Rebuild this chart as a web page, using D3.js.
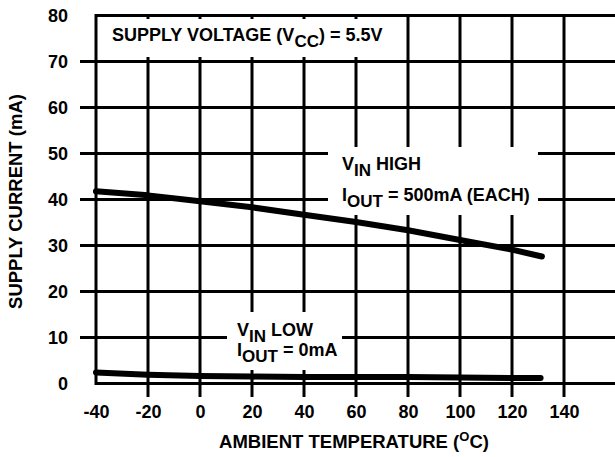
<!DOCTYPE html>
<html>
<head>
<meta charset="utf-8">
<script src="https://cdn.jsdelivr.net/npm/d3@7"></script>
<style>
  body { margin: 0; background: white; }
  svg text { font-family: "Liberation Sans", Arial, Helvetica, sans-serif; font-weight: bold; fill: black; }
</style>
</head>
<body>
<script>
// width and height for svg containing graph
var w = 615;
var h = 457;
var fontSize = 18;
var titleSize = 18.5;
var subSize = 17;
var supSize = 13;

// temperatures (deg C) and supply current (mA)
var highTemp = [-40, -20, 0, 20, 40, 60, 80, 100, 120, 131.5];
var highCurrent = [41.8, 40.9, 39.6, 38.3, 36.7, 35.1, 33.3, 31.2, 29.1, 27.6];

var lowTemp = [-40, -20, 0, 20, 40, 60, 80, 100, 120, 131];
var lowCurrent = [2.4, 1.9, 1.65, 1.5, 1.4, 1.4, 1.4, 1.3, 1.2, 1.2];

// tick labels
var xTicks = [-40, -20, 0, 20, 40, 60, 80, 100, 120, 140];
var yTicks = [0, 10, 20, 30, 40, 50, 60, 70, 80];

// merges arrays to array of objects
function parseData(var1, var2) {
  var arr = [];
  for (var i = 0; i < var1.length; i++) {
    arr.push({ temp: var1[i], value: var2[i] });
  }
  return arr;
};

var svg = d3.select("body")
            .append("svg")
            .attr("width", w)
            .attr("height", h);

// scales, plot runs off the right side of the picture
var x = d3.scaleLinear()
          .domain([-40, 160])
          .range([96, 616]);

var y = d3.scaleLinear()
          .domain([0, 80])
          .range([383.5, 15.5]);

// horizontal grid lines, sticking out left as ticks
svg.append("g")
   .selectAll("line")
   .data(yTicks.filter(d => d > 0 && d < 80))
   .enter().append("line")
   .attr("x1", 80)
   .attr("x2", x(160))
   .attr("y1", d => y(d))
   .attr("y2", d => y(d))
   .attr("stroke", "black")
   .attr("stroke-width", 3);

// vertical grid lines, sticking out below as ticks
svg.append("g")
   .selectAll("line")
   .data(xTicks.filter(d => d > -40))
   .enter().append("line")
   .attr("x1", d => x(d))
   .attr("x2", d => x(d))
   .attr("y1", y(80))
   .attr("y2", 397)
   .attr("stroke", "black")
   .attr("stroke-width", 3);

// white boxes behind the labels
var boxes = [[98, 19, 297, 38], [328, 147, 210, 68], [227, 312, 115, 58]];
svg.append("g")
   .selectAll("rect")
   .data(boxes)
   .enter().append("rect")
   .attr("x", d => d[0])
   .attr("y", d => d[1])
   .attr("width", d => d[2])
   .attr("height", d => d[3])
   .attr("fill", "white");

// frame: left, top and bottom
svg.append("path")
   .attr("d", "M" + x(160) + "," + y(80) + "H" + x(-40) + "V" + y(0) + "H" + x(160))
   .attr("fill", "none")
   .attr("stroke", "black")
   .attr("stroke-width", 3);

// axes used for the tick labels only
svg.append("g")
   .attr("transform", "translate(" + x(-40) + ",0)")
   .call(d3.axisLeft(y).tickValues(yTicks).tickSize(0).tickPadding(28))
   .call(g => g.select(".domain").remove())
   .selectAll("text")
   .style("font-size", fontSize + "px")
   .attr("dy", "0.36em");

svg.append("g")
   .attr("transform", "translate(0," + y(0) + ")")
   .call(d3.axisBottom(x).tickValues(xTicks).tickFormat(d => String(d)).tickSize(0).tickPadding(34.5))
   .call(g => g.select(".domain").remove())
   .selectAll("text")
   .style("font-size", fontSize + "px")
   .attr("dy", 0);

// curves
var line = d3.line()
             .x(d => x(d.temp))
             .y(d => y(d.value));

[parseData(highTemp, highCurrent), parseData(lowTemp, lowCurrent)].forEach(function(data) {
  svg.append("path")
     .datum(data)
     .attr("fill", "none")
     .attr("stroke", "black")
     .attr("stroke-width", 6)
     .attr("stroke-linejoin", "round")
     .attr("stroke-linecap", "round")
     .attr("d", line);
});

// text with sub/superscripts, parts = [text, shift]
function label(px, py, parts, anchor, size) {
  size = size || fontSize;
  var t = svg.append("text")
             .attr("x", px)
             .attr("y", py)
             .attr("text-anchor", anchor || "start")
             .style("font-size", size + "px");
  var prev = 0;
  parts.forEach(function(p) {
    var s = size;
    if (p[1] > 0) s = subSize;
    if (p[1] < 0) s = supSize;
    t.append("tspan")
     .attr("dy", (p[1] - prev) + "px")
     .style("font-size", s + "px")
     .text(p[0]);
    prev = p[1];
  });
  return t;
};

label(112, 41, [["SUPPLY VOLTAGE (V", 0], ["CC", 6], [") = 5.5V", 0]]);
label(342, 170, [["V", 0], ["IN", 5.5], [" HIGH", 0]]);
label(342, 201, [["I", 0], ["OUT", 5.5], [" = 500mA (EACH)", 0]]);
label(237, 336, [["V", 0], ["IN", 5.5], [" LOW", 0]]);
label(237, 356, [["I", 0], ["OUT", 5.5], [" = 0mA", 0]]);

// axis titles
label(354, 448, [["AMBIENT TEMPERATURE (", 0], ["O", -7], ["C)", 0]], "middle", titleSize);

svg.append("text")
   .attr("transform", "translate(22,201.5) rotate(-90)")
   .attr("text-anchor", "middle")
   .style("font-size", titleSize + "px")
   .text("SUPPLY CURRENT (mA)");
</script>
</body>
</html>
